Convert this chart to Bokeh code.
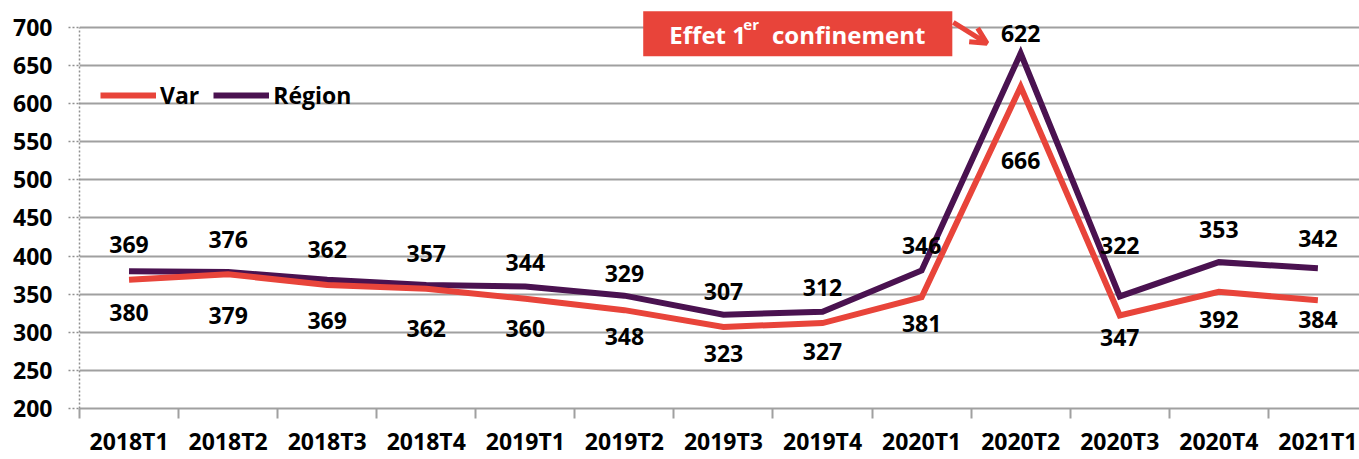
from bokeh.plotting import figure
from bokeh.models import (Range1d, FixedTicker, ColumnDataSource, LabelSet, Label,
                          BoxAnnotation, Arrow, OpenHead, Legend, LegendItem)
from bokeh.core.properties import value
from bokeh.embed import file_html
from bokeh.resources import INLINE

categories = ["2018T1", "2018T2", "2018T3", "2018T4", "2019T1", "2019T2", "2019T3",
              "2019T4", "2020T1", "2020T2", "2020T3", "2020T4", "2021T1"]
var_values = [369, 376, 362, 357, 344, 329, 307, 312, 346, 622, 322, 353, 342]
region_values = [380, 379, 369, 362, 360, 348, 323, 327, 381, 666, 347, 392, 384]
y_ticks = [200, 250, 300, 350, 400, 450, 500, 550, 600, 650, 700]

# label offsets (screen px, style only)
var_label_dy = [35, 35, 36, 35, 36, 37, 35, 36, 52, 53, 70, 62, 62]
region_label_dy = [-41, -43, -41, -43, -42, -41, -39, -40, -53, -107, -41, -57, -51]

RED = "#E8443A"
PURPLE = "#4A1250"
GRID = "#A0A0A0"
FONT = "Open Sans"

xs = [i + 0.5 for i in range(len(categories))]

p = figure(width=1359, height=459, x_range=Range1d(0, 12.92), y_range=Range1d(200, 735.2),
           output_backend="svg", toolbar_location=None,
           min_border_left=79, min_border_right=0, min_border_top=0, min_border_bottom=49)
p.outline_line_color = None
p.background_fill_color = "white"

# axes
p.xaxis.ticker = FixedTicker(ticks=xs, minor_ticks=list(range(len(categories) + 1)))
p.xaxis.major_label_overrides = {x: c for x, c in zip(xs, categories)}
p.xaxis.major_tick_out = 0
p.xaxis.major_tick_in = 0
p.xaxis.minor_tick_out = 10
p.xaxis.minor_tick_in = 0
p.xaxis.minor_tick_line_color = GRID
p.xaxis.minor_tick_line_width = 2
p.xaxis.axis_line_color = GRID
p.xaxis.axis_line_width = 2
p.xaxis.major_label_standoff = 6
p.xaxis.major_label_text_font = FONT
p.xaxis.major_label_text_font_style = "bold"
p.xaxis.major_label_text_font_size = "23px"
p.xaxis.major_label_text_color = "black"

p.yaxis.ticker = FixedTicker(ticks=y_ticks)
p.yaxis.bounds = (200, 700)
p.yaxis.axis_line_color = "#909090"
p.yaxis.axis_line_dash = "2 2"
p.yaxis.axis_line_width = 1.5
p.yaxis.major_tick_out = 11
p.yaxis.major_tick_in = 0
p.yaxis.major_tick_line_color = "#909090"
p.yaxis.major_tick_line_dash = "2 2"
p.yaxis.major_tick_line_width = 1.5
p.yaxis.minor_tick_line_color = None
p.yaxis.major_label_standoff = 16
p.yaxis.major_label_text_font = FONT
p.yaxis.major_label_text_font_style = "bold"
p.yaxis.major_label_text_font_size = "23px"
p.yaxis.major_label_text_color = "black"

p.xgrid.grid_line_color = None
p.ygrid.grid_line_color = GRID
p.ygrid.grid_line_width = 2

src = ColumnDataSource(dict(x=xs, var=var_values, reg=region_values,
                            var_txt=[str(v) for v in var_values],
                            reg_txt=[str(v) for v in region_values],
                            var_dy=var_label_dy, reg_dy=region_label_dy))

r_reg = p.line("x", "reg", source=src, line_color=PURPLE, line_width=6, line_join="miter")
r_var = p.line("x", "var", source=src, line_color=RED, line_width=6, line_join="miter")

for txt, col, dy in [("var_txt", "var", "var_dy"), ("reg_txt", "reg", "reg_dy")]:
    p.add_layout(LabelSet(x="x", y=col, text=txt, y_offset=dy, source=src,
                          text_font=value(FONT), text_font_style=value("bold"),
                          text_font_size=value("23px"),
                          text_color="black", text_align="center", text_baseline="middle"))

# legend
legend = Legend(items=[LegendItem(label="Var", renderers=[r_var]),
                       LegendItem(label="Région", renderers=[r_reg])],
                orientation="horizontal", location=(21, 297),
                glyph_width=56, glyph_height=20, label_standoff=4, spacing=14,
                padding=0, margin=0, border_line_color=None, background_fill_alpha=0,
                label_text_font=FONT, label_text_font_style="bold",
                label_text_font_size="23px", label_text_color="black")
p.add_layout(legend)

# annotation box
p.add_layout(BoxAnnotation(left=5.69, right=8.81, bottom=662, top=721,
                           fill_color=RED, fill_alpha=1, line_color=None))
p.add_layout(Label(x=5.954, y=690.8, text="Effet 1", text_font=FONT, text_font_style="bold",
                   text_font_size="24px", text_color="white", text_baseline="alphabetic"))
p.add_layout(Label(x=6.70, y=703.9, text="er", text_font=FONT, text_font_style="bold",
                   text_font_size="15px", text_color="white", text_baseline="alphabetic"))
p.add_layout(Label(x=6.99, y=690.8, text="confinement", text_font=FONT, text_font_style="bold",
                   text_font_size="24px", text_color="white", text_baseline="alphabetic"))
p.add_layout(Arrow(x_start=8.82, y_start=706.5, x_end=9.16, y_end=679,
                   line_color=RED, line_width=5,
                   end=OpenHead(size=16, line_color=RED, line_width=5)))

open("out.html", "w").write(file_html(p, INLINE))
